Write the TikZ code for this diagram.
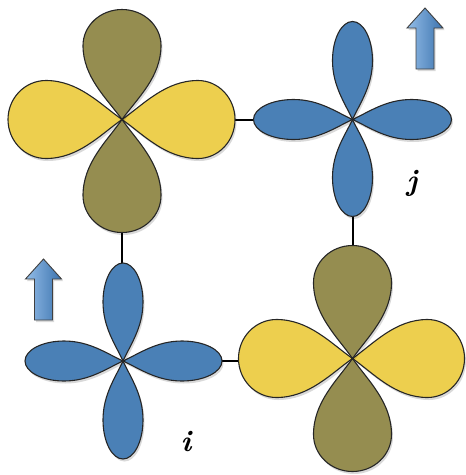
\documentclass[tikz,border=0pt]{standalone}
\usepackage{tikz}
\definecolor{dyel}{HTML}{EDCF4E}
\definecolor{dolive}{HTML}{958D50}
\definecolor{dblue}{HTML}{4A80B6}
\definecolor{arrL}{HTML}{93BDE8}
\definecolor{arrR}{HTML}{3C73AE}
\tikzset{
  lobeline/.style={draw=black!85, line width=1.1pt, line join=round},
  conn/.style={draw=black, line width=2pt},
  spinarrow/.style={draw=black!75, line width=0.9pt, line join=miter, left color=arrL, right color=arrR},
  sitelabel/.style={font=\fontsize{30}{36}\selectfont\bfseries\itshape, anchor=base, inner sep=0pt}
}
% #1 centre, #2 angle, #3 length, #4 half width, #5 widest point, #6 colour
\newcommand{\lobepath}[5]{%
    (0,0) .. controls ({0.28*#5},{0.38*#4}) and ({0.57*#5},#4) .. (#5,#4)
          .. controls ({#5+0.552*(#3-#5)},#4) and (#3,{0.552*#4}) .. (#3,0)
          .. controls (#3,{-0.552*#4}) and ({#5+0.552*(#3-#5)},-#4) .. (#5,-#4)
          .. controls ({0.57*#5},-#4) and ({0.28*#5},{-0.38*#4}) .. cycle}
\newcommand{\dlobe}[6]{%
  \fill[black, opacity=0.15, shift={#1}, xshift=1.5pt, yshift=-2.5pt, rotate=#2]
    \lobepath{#1}{#2}{#3}{#4}{#5};
  \path[lobeline, fill=#6, shift={#1}, rotate=#2]
    \lobepath{#1}{#2}{#3}{#4}{#5};
}
\newcommand{\spinup}[1]{%
  \fill[black, opacity=0.15, shift={#1}, xshift=1.5pt, yshift=-2pt]
    (0,0) -- (18,20) -- (9,20) -- (9,61) -- (-9,61) -- (-9,20) -- (-18,20) -- cycle;
  \path[spinarrow, shift={#1}]
    (0,0) -- (18,20) -- (9,20) -- (9,61) -- (-9,61) -- (-9,20) -- (-18,20) -- cycle;
}
\begin{document}
\begin{tikzpicture}[x=1pt,y=-1pt]
\useasboundingbox (0,0) rectangle (466,475);
% site centres
\coordinate (tl) at (122,119.5);
\coordinate (tr) at (352.5,119.5);
\coordinate (bl) at (123,361);
\coordinate (br) at (352.5,358.5);
% lobe tips used by connectors
\coordinate (tlR) at (230,119.5);
\coordinate (trL) at (258,119.5);
\coordinate (tlB) at (122,225);
\coordinate (blT) at (122,268);
\coordinate (trB) at (352.5,212);
\coordinate (brT) at (352.5,250);
\coordinate (blR) at (217,361);
\coordinate (brL) at (243,361);
% connectors
\draw[conn] (tlR) -- (trL);
\draw[conn] (tlB) -- (blT);
\draw[conn] (trB) -- (brT);
\draw[conn] (blR) -- (brL);
% top-left d orbital
\dlobe{(tl)}{0}{113}{39}{76}{dyel}
\dlobe{(tl)}{180}{114}{39}{76}{dyel}
\dlobe{(tl)}{90}{110}{39}{74}{dolive}
\dlobe{(tl)}{270}{113}{39}{76}{dolive}
% bottom-right d orbital
\dlobe{(br)}{0}{112}{39}{75}{dyel}
\dlobe{(br)}{180}{114}{39}{76}{dyel}
\dlobe{(br)}{90}{113}{39}{76}{dolive}
\dlobe{(br)}{270}{113}{39}{76}{dolive}
% top-right blue orbital
\dlobe{(tr)}{0}{99}{20}{59}{dblue}
\dlobe{(tr)}{180}{99}{20}{59}{dblue}
\dlobe{(tr)}{90}{98}{20}{59}{dblue}
\dlobe{(tr)}{270}{97}{20}{58}{dblue}
% bottom-left blue orbital
\dlobe{(bl)}{0}{99}{20}{59}{dblue}
\dlobe{(bl)}{180}{98}{20}{59}{dblue}
\dlobe{(bl)}{90}{98}{20}{59}{dblue}
\dlobe{(bl)}{270}{98}{20}{59}{dblue}
% spin arrows
\coordinate (arrTR) at (425,8);
\coordinate (arrBL) at (43.5,259);
\spinup{(arrTR)}
\spinup{(arrBL)}
% labels
\node[sitelabel] (lj) at (412,190) {j};
\node[sitelabel] (li) at (186,451) {i};
\end{tikzpicture}
\end{document}
